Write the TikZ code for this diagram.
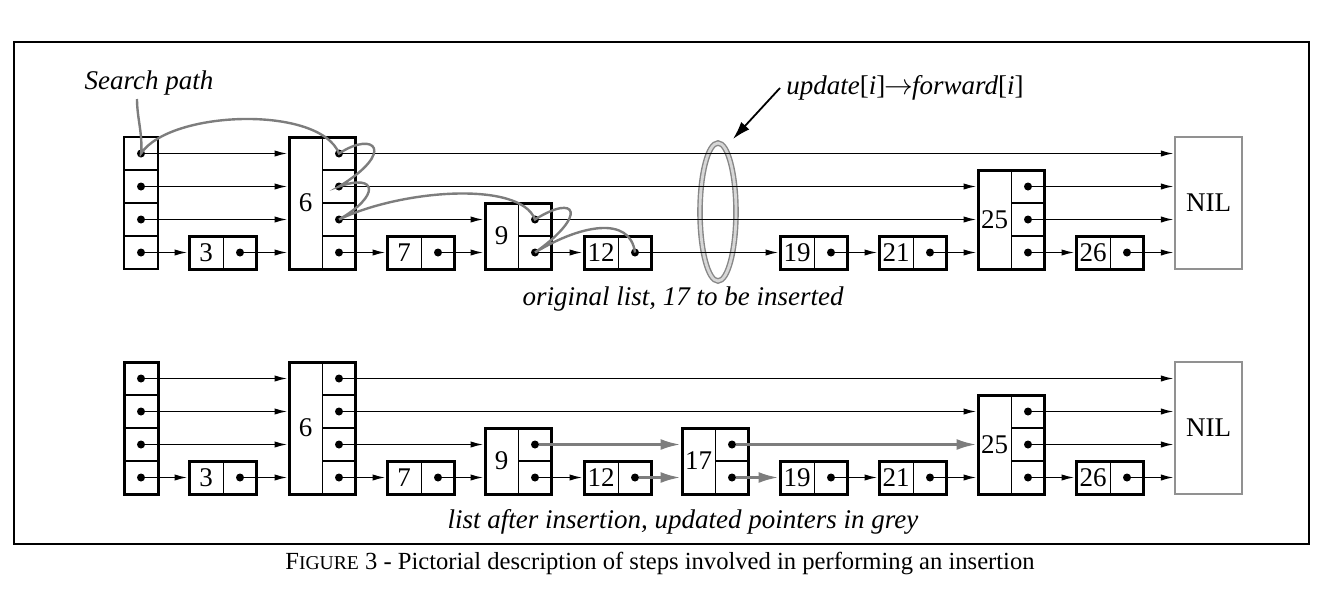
\documentclass[tikz,border=0pt]{standalone}
\usepackage{fontspec}
\setmainfont{Liberation Serif}
\usetikzlibrary{arrows.meta,shapes.geometric}
\definecolor{greyline}{RGB}{125,125,125}
\definecolor{nilgrey}{RGB}{145,145,145}
\definecolor{ringgrey}{RGB}{135,135,135}
\definecolor{ringlight}{RGB}{215,215,215}
\tikzset{
  box/.style={draw, line width=1.5pt, inner sep=0pt, rectangle},
  thinbox/.style={draw, line width=0.7pt, inner sep=0pt, rectangle},
  div/.style={line width=0.7pt},
  dot/.style={circle, fill, inner sep=0pt, minimum size=4pt},
  arr/.style={line width=0.8pt, -{Latex[length=6.5pt,width=3.2pt]}},
  garr/.style={draw=greyline, line width=1.4pt, -{Latex[length=10pt,width=5.5pt]}, color=greyline},
  bigarr/.style={line width=0.9pt, -{Latex[length=9pt,width=5.5pt]}},
  spath/.style={draw=greyline, line width=1.2pt},
  lbl/.style={font=\fontsize{13.5}{16}\selectfont, inner sep=0pt},
  ilbl/.style={font=\fontsize{13.5}{16}\selectfont\itshape, inner sep=0pt},
}
% small two-cell node: #1 name, #2 left x, #3 label
\newcommand\cellnode[3]{%
  \node[box, minimum width=33.5pt, minimum height=16.5pt] (#1box) at (#2+33.5,252.5) {};
  \draw[div] (#2+34.5,236) -- (#2+34.5,269);
  \node[lbl] (#1lab) at (#2+17,252.5) {#3};
  \node[dot] (#1) at (#2+51,252.5) {};
}
% tall node: #1 name, #2 left x, #3 number of rows, #4 label
\newcommand\tallnode[4]{%
  \pgfmathsetmacro\tallh{#3*16.5}%
  \pgfmathtruncatemacro\firstrow{5-#3}%
  \node[box, minimum width=33pt, minimum height=\tallh pt] (#1box) at (#2+33,{269-16.5*#3}) {};
  \draw[div] (#2+33.5,{269-33*#3}) -- (#2+33.5,269);
  \node[lbl] (#1lab) at (#2+16.5,{269-16.5*#3}) {#4};
  \foreach \r in {\firstrow,...,4} {\node[dot] (#1\r) at (#2+50,{120.5+33*\r}) {};}
  \ifnum\firstrow<4
    \foreach \r in {\firstrow,...,3} {\draw[div] (#2+33.5,{137+33*\r}) -- (#2+66,{137+33*\r});}
  \fi
}
% header: #1 name, #2 box style
\newcommand\headernode[2]{%
  \node[#2, minimum width=17pt, minimum height=66pt] (#1box) at (141,203) {};
  \foreach \r in {1,2,3} {\draw[div] (124,{137+33*\r}) -- (158,{137+33*\r});}
  \foreach \r in {1,...,4} {\node[dot] (#1\r) at (141,{120.5+33*\r}) {};}
}
% common part of a list: #1 prefix, #2 header style
\newcommand\commonlist[2]{%
  \headernode{#1H}{#2}
  \cellnode{#1A}{189}{3}
  \tallnode{#1S}{289}{4}{6}
  \cellnode{#1B}{387}{7}
  \tallnode{#1N}{485}{2}{9}
  \cellnode{#1T}{584}{12}
  \cellnode{#1C}{780}{19}
  \cellnode{#1D}{879}{21}
  \tallnode{#1F}{978}{3}{25}
  \cellnode{#1G}{1076}{26}
  \node[draw=nilgrey, line width=1.2pt, rectangle, inner sep=0pt, minimum width=33.5pt, minimum height=66pt, font=\fontsize{13.5}{16}\selectfont] (#1nil) at (1208.5,203) {NIL};
  \draw[arr] (#1H1) -- (#1H1 -| #1Sbox.west);
  \draw[arr] (#1H2) -- (#1H2 -| #1Sbox.west);
  \draw[arr] (#1H3) -- (#1H3 -| #1Sbox.west);
  \draw[arr] (#1H4) -- (#1H4 -| #1Abox.west);
  \draw[arr] (#1A) -- (#1A -| #1Sbox.west);
  \draw[arr] (#1S1) -- (#1S1 -| #1nil.west);
  \draw[arr] (#1S2) -- (#1S2 -| #1Fbox.west);
  \draw[arr] (#1S3) -- (#1S3 -| #1Nbox.west);
  \draw[arr] (#1S4) -- (#1S4 -| #1Bbox.west);
  \draw[arr] (#1B) -- (#1B -| #1Nbox.west);
  \draw[arr] (#1N4) -- (#1N4 -| #1Tbox.west);
  \draw[arr] (#1C) -- (#1C -| #1Dbox.west);
  \draw[arr] (#1D) -- (#1D -| #1Fbox.west);
  \draw[arr] (#1F2) -- (#1F2 -| #1nil.west);
  \draw[arr] (#1F3) -- (#1F3 -| #1nil.west);
  \draw[arr] (#1F4) -- (#1F4 -| #1Gbox.west);
  \draw[arr] (#1G) -- (#1G -| #1nil.west);
}
\begin{document}
\begin{tikzpicture}[x=0.5pt,y=-0.5pt]
\useasboundingbox (0,0) rectangle (1330,600);
% frame
\draw[line width=1.4pt] (14,42) rectangle (1309,544);
% ring
\node[ellipse, draw=ringgrey, double=ringlight, double distance=1.4pt, line width=0.7pt,
      minimum width=18pt, minimum height=69pt, inner sep=0pt] (ring) at (718,212) {};
% top list
\commonlist{t}{thinbox}
\draw[arr] (tN3) -- (tN3 -| tFbox.west);
\draw[arr] (tT) -- (tT -| tCbox.west);
% search path
\node[ilbl] (sp) at (149,83) {Search path};
\coordinate (spstart) at (137,99);
\draw[spath] (spstart) .. controls (137,118) and (143,135) .. (tH1.center)
  .. controls (170,110) and (320,105) .. (tS1.center)
  .. controls (375,130) and (396,152) .. (tS2.center)
  .. controls (378,173) and (380,196) .. (tS3.center)
  .. controls (400,190) and (520,180) .. (tN3.center)
  .. controls (577,193) and (588,215) .. (tN4.center)
  .. controls (580,225) and (630,215) .. (tT.center);
% update label
\node[ilbl, anchor=west] (upd) at (786,88) {update{\upshape[}i{\upshape]}\kern-0.5pt$\rightarrow$\kern-0.5pt forward{\upshape[}i{\upshape]}};
\coordinate (ringtip) at (733,139);
\draw[bigarr] ([xshift=-3pt]upd.west) -- (ringtip);
\node[ilbl] (cap1) at (683,299) {original list, 17 to be inserted};
% bottom list
\begin{scope}[shift={(0,225)}]
\commonlist{b}{box}
\tallnode{bK}{682}{2}{17}
\draw[garr] (bN3) -- (bN3 -| bKbox.west);
\draw[garr] (bT) -- (bT -| bKbox.west);
\draw[garr] (bK3) -- (bK3 -| bFbox.west);
\draw[garr] (bK4) -- (bK4 -| bCbox.west);
\end{scope}
\node[ilbl] (cap2) at (683,522) {list after insertion, updated pointers in grey};
\node[font=\fontsize{12.3}{14}\selectfont, inner sep=0pt] (fig) at (660,563)
  {F{\fontsize{9.8}{12}\selectfont IGURE} 3 - Pictorial description of steps involved in performing an insertion};
\end{tikzpicture}
\end{document}
